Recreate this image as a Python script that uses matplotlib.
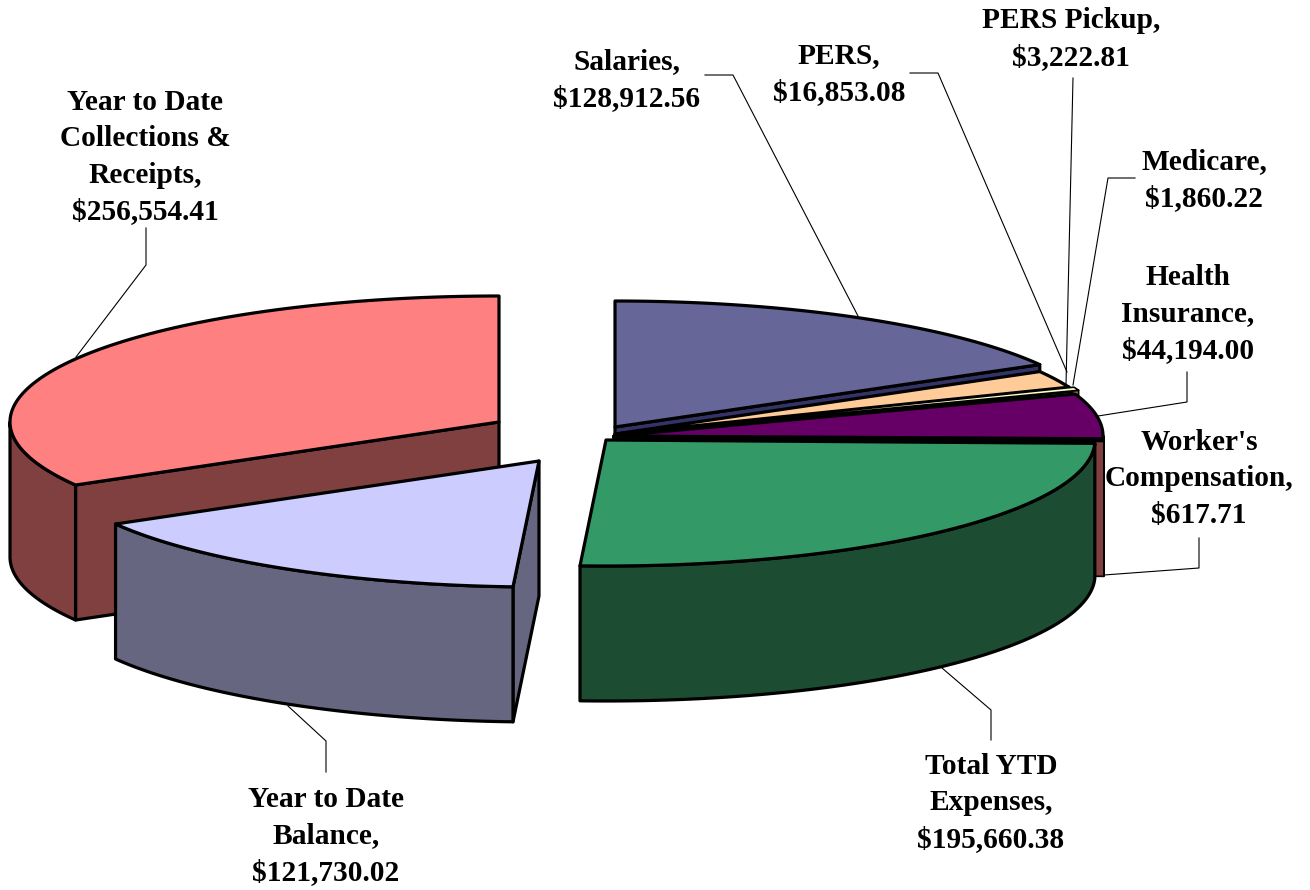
import numpy as np
import matplotlib
matplotlib.use("Agg")
import matplotlib.pyplot as plt
from matplotlib.patches import Polygon

# slices in clockwise order starting from 12 o'clock
names = ["Salaries", "PERS", "PERS Pickup", "Medicare", "Health\nInsurance",
         "Worker's\nCompensation", "Total YTD\nExpenses", "Year to Date\nBalance",
         "Year to Date\nCollections &\nReceipts"]
values = [128912.56, 16853.08, 3222.81, 1860.22, 44194.00, 617.71,
          195660.38, 121730.02, 256554.41]
top_colors = ["#666699", "#FFCC99", "#FFFFCC", "#FFFFCC", "#660066", "#FF8080",
              "#339966", "#CCCCFF", "#FF8080"]
side_colors = ["#333366", "#806650", "#A07840", "#668066", "#330033", "#804040",
               "#1C4D33", "#666680", "#804040"]

# where each slice's tip ended up after exploding (pixels)
apex_x = [615, 615, 620, 613, 614, 615, 606, 539, 499]
apex_y = [427, 434, 434, 436, 436, 438, 440, 461, 422]

rx = 489
ry = 126
depth = 135
edge = 2.3

label_x = [627, 839, 1071, 1204, 1188, 1199, 991, 326, 145]
label_y = [80, 74, 39, 180, 314, 479, 803, 836, 157]

leaders = [
    [(705, 75), (733, 75), (858, 316)],
    [(910, 73), (938, 73), (1067, 372)],
    [(1073, 78), (1066, 385)],
    [(1135, 178), (1108, 178), (1073, 385)],
    [(1187, 372), (1187, 402), (1098, 416)],
    [(1199, 538), (1199, 568), (1104, 575)],
    [(991, 740), (991, 710), (942, 668)],
    [(326, 772), (326, 741), (288, 706)],
    [(146, 228), (146, 265), (76, 357)],
]

fig = plt.figure(figsize=(13.1, 8.9), dpi=100)
ax = fig.add_axes([0, 0, 1, 1])
ax.set_xlim(0, 1310)
ax.set_ylim(890, 0)
ax.axis("off")

angles = np.concatenate([[0], np.cumsum(values) / np.sum(values) * 360])


def rim(cx, cy, a):
    t = np.radians(a)
    return cx + rx * np.sin(t), cy - ry * np.cos(t)


def draw_face(pts, color, z, lw=edge):
    ax.add_patch(Polygon(pts, closed=True, facecolor=color, edgecolor="black",
                         linewidth=lw, joinstyle="round", zorder=z))


# leader lines sit behind the pie
for line in leaders:
    xs, ys = zip(*line)
    ax.plot(xs, ys, color="black", linewidth=0.8, zorder=1)

# back to front: left group first, then the right group from top round to the front
order = [8, 7, 0, 1, 2, 3, 4, 5, 6]
for z, i in enumerate(order):
    a0, a1 = angles[i], angles[i + 1]
    cx, cy = apex_x[i], apex_y[i]
    base = 10 + z * 3
    # the tiny slices would be nothing but outline at full weight
    lw = edge if a1 - a0 > 5 else 1.2

    # cut faces, only when turned towards the viewer
    if 180 < a0 < 360:
        x0, y0 = rim(cx, cy, a0)
        draw_face([(cx, cy), (x0, y0), (x0, y0 + depth), (cx, cy + depth)], side_colors[i], base, lw)
    if 0 < a1 < 180:
        x1, y1 = rim(cx, cy, a1)
        draw_face([(cx, cy), (x1, y1), (x1, y1 + depth), (cx, cy + depth)], side_colors[i], base, lw)

    # outer wall, front half of the ellipse only
    w0, w1 = max(a0, 90), min(a1, 270)
    if w1 > w0:
        tw = np.linspace(w0, w1, 120)
        xw, yw = rim(cx, cy, tw)
        pts = list(zip(xw, yw)) + list(zip(xw[::-1], yw[::-1] + depth))
        draw_face(pts, side_colors[i], base + 1, lw)

    # top face
    tt = np.linspace(a0, a1, 200)
    xt, yt = rim(cx, cy, tt)
    draw_face([(cx, cy)] + list(zip(xt, yt)), top_colors[i], base + 2, lw)

# labels
for i in range(len(names)):
    ax.text(label_x[i], label_y[i], f"{names[i]},\n${values[i]:,.2f}",
            family=["Liberation Serif", "DejaVu Serif"], fontweight="bold", fontsize=21.2,
            ha="center", va="center", linespacing=1.45, color="black", zorder=100)

fig.savefig("out.png", dpi=100)
plt.close()
